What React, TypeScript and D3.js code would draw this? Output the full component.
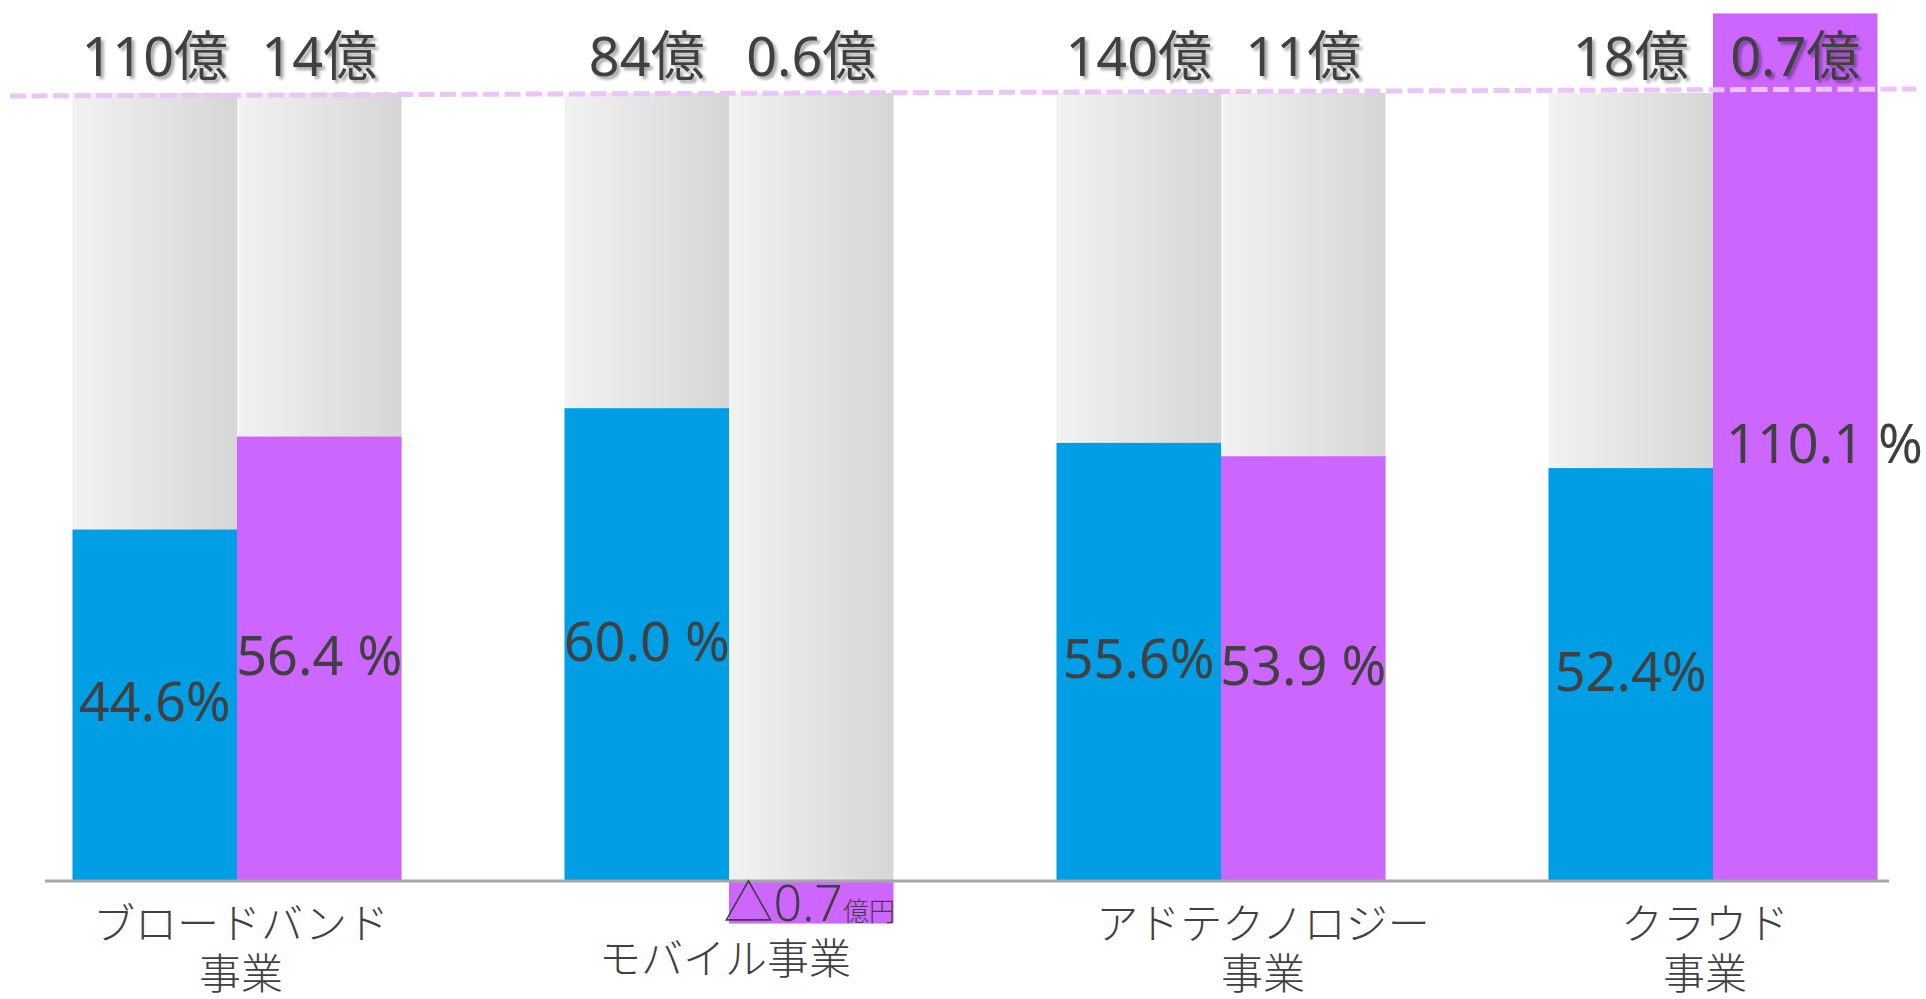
import { useEffect, useRef } from "react";
import * as d3 from "d3";

// カテゴリ
const categories = ["broadband", "mobile", "adtech", "cloud"];
const categoryLabels = [
  ["ブロードバンド", "事業"],
  ["モバイル事業"],
  ["アドテクノロジー", "事業"],
  ["クラウド", "事業"],
];

// 上部のラベル（売上・利益）
const revenueLabels = ["110億", "84億", "140億", "18億"];
const profitLabels = ["14億", "0.6億", "11億", "0.7億"];

// 青 = シェア、紫 = 利益率
const shareValues = [44.6, 60.0, 55.6, 52.4];
const marginValues = [56.4, -5.4, 53.9, 110.1];
const shareLabels = ["44.6%", "60.0 %", "55.6%", "52.4%"];
const marginLabels = ["56.4 %", "", "53.9 %", "110.1 %"];
const negativeLabel = ["△0.7", "億円"];

const App = () => {
  const svgRef = useRef(null);

  useEffect(() => {
    const W = 1926;
    const H = 999;
    const svg = d3.select(svgRef.current);
    svg.selectAll("*").remove();
    svg.attr("width", W).attr("height", H);

    const defs = svg.append("defs");
    const grad = defs
      .append("linearGradient")
      .attr("id", "greyGrad")
      .attr("x1", 0)
      .attr("x2", 1)
      .attr("y1", 0)
      .attr("y2", 0);
    grad.append("stop").attr("offset", 0).attr("stop-color", "#f2f2f2");
    grad.append("stop").attr("offset", 1).attr("stop-color", "#d6d6d6");

    const shadow = defs.append("filter").attr("id", "shadow").attr("x", "-10%").attr("y", "-10%").attr("width", "130%").attr("height", "140%");
    shadow
      .append("feDropShadow")
      .attr("dx", 3)
      .attr("dy", 3)
      .attr("stdDeviation", 1.5)
      .attr("flood-color", "#000")
      .attr("flood-opacity", 0.35);

    const x0 = d3
      .scaleBand()
      .domain(categories)
      .range([72.5, 1877.5])
      .paddingInner(1 - 329 / 492)
      .paddingOuter(0);
    const x1 = d3
      .scaleBand()
      .domain(["share", "margin"])
      .range([0, x0.bandwidth()]);
    const y = d3.scaleLinear().domain([0, 100]).range([881, 93]);

    const bw = x1.bandwidth();
    const rows = categories.map((c, i) => ({
      c,
      i,
      share: shareValues[i],
      margin: marginValues[i],
    }));

    // 背景のグレー（100%）
    const g = svg.append("g");
    rows.forEach((d) => {
      ["share", "margin"].forEach((k) => {
        g.append("rect")
          .attr("x", x0(d.c) + x1(k))
          .attr("y", y(100))
          .attr("width", bw)
          .attr("height", y(0) - y(100))
          .attr("fill", "url(#greyGrad)");
      });
    });

    // 青
    g.selectAll(".share")
      .data(rows)
      .enter()
      .append("rect")
      .attr("x", (d) => x0(d.c) + x1("share"))
      .attr("y", (d) => y(d.share))
      .attr("width", bw)
      .attr("height", (d) => y(0) - y(d.share))
      .attr("fill", "#009fe5");

    // 紫
    g.selectAll(".margin")
      .data(rows)
      .enter()
      .append("rect")
      .attr("x", (d) => x0(d.c) + x1("margin"))
      .attr("y", (d) => y(Math.max(0, d.margin)))
      .attr("width", bw)
      .attr("height", (d) => Math.abs(y(0) - y(d.margin)))
      .attr("fill", "#cc66ff");

    // X軸の線
    svg
      .append("line")
      .attr("x1", 45)
      .attr("x2", 1889)
      .attr("y1", y(0))
      .attr("y2", y(0))
      .attr("stroke", "#a6a6a6")
      .attr("stroke-width", 3);

    // 100% の点線
    svg
      .append("line")
      .attr("x1", 10)
      .attr("x2", 1916)
      .attr("y1", y(100) + 3)
      .attr("y2", y(100) - 4)
      .attr("stroke", "#ebc4f8")
      .attr("stroke-width", 5)
      .attr("stroke-dasharray", "16 5.5");

    const font = "'Noto Sans', 'Noto Sans CJK JP', sans-serif";

    // パーセント
    rows.forEach((d) => {
      svg
        .append("text")
        .attr("x", x0(d.c) + x1("share") + bw / 2)
        .attr("y", y(d.share / 2))
        .attr("dy", "0.3em")
        .attr("text-anchor", "middle")
        .attr("font-family", font)
        .attr("font-size", 54)
        .attr("fill", "#404040")
        .text(shareLabels[d.i]);
      if (marginLabels[d.i]) {
        const over = d.margin > 100;
        svg
          .append("text")
          .attr("x", x0(d.c) + x1("margin") + (over ? 13 : bw / 2))
          .attr("y", y(d.margin / 2))
          .attr("dy", "0.3em")
          .attr("text-anchor", over ? "start" : "middle")
          .attr("font-family", font)
          .attr("font-size", 54)
          .attr("fill", "#404040")
          .text(marginLabels[d.i]);
      }
    });

    // マイナスの利益
    const neg = rows.find((d) => d.margin < 0);
    if (neg) {
      const t = svg
        .append("text")
        .attr("x", x0(neg.c) + x1("margin") + bw / 2 - 2)
        .attr("y", y(neg.margin) - 3)
        .attr("text-anchor", "middle")
        .attr("font-family", font)
        .attr("fill", "#404040");
      t.append("tspan").attr("font-size", 50).attr("font-weight", 300).text(negativeLabel[0]);
      t.append("tspan").attr("font-size", 26).attr("font-weight", 300).text(negativeLabel[1]);
    }

    // 上部ラベル
    rows.forEach((d) => {
      [
        ["share", revenueLabels[d.i]],
        ["margin", profitLabels[d.i]],
      ].forEach(([k, label]) => {
        svg
          .append("text")
          .attr("x", x0(d.c) + x1(k) + bw / 2)
          .attr("y", y(100) - 17)
          .attr("text-anchor", "middle")
          .attr("font-family", font)
          .attr("font-size", 54)
          .attr("fill", "#404040")
          .attr("filter", "url(#shadow)")
          .text(label);
      });
    });

    // カテゴリ名
    const nudge = [4, -4, 42, -8];
    rows.forEach((d) => {
      const lines = categoryLabels[d.i];
      const cx = x0(d.c) + x0.bandwidth() / 2 + nudge[d.i];
      const ys = lines.length === 1 ? [y(0) + 93] : [y(0) + 58, y(0) + 108];
      lines.forEach((line, j) => {
        svg
          .append("text")
          .attr("x", cx)
          .attr("y", ys[j])
          .attr("text-anchor", "middle")
          .attr("font-family", "'Noto Sans CJK JP', sans-serif")
          .attr("font-weight", 300)
          .attr("font-size", 42)
          .attr("fill", "#404040")
          .text(line);
      });
    });
  }, []);

  return (
    <div style={{ position: "absolute", left: 0, top: 0 }}>
      <svg ref={svgRef}></svg>
    </div>
  );
};

export default App;
